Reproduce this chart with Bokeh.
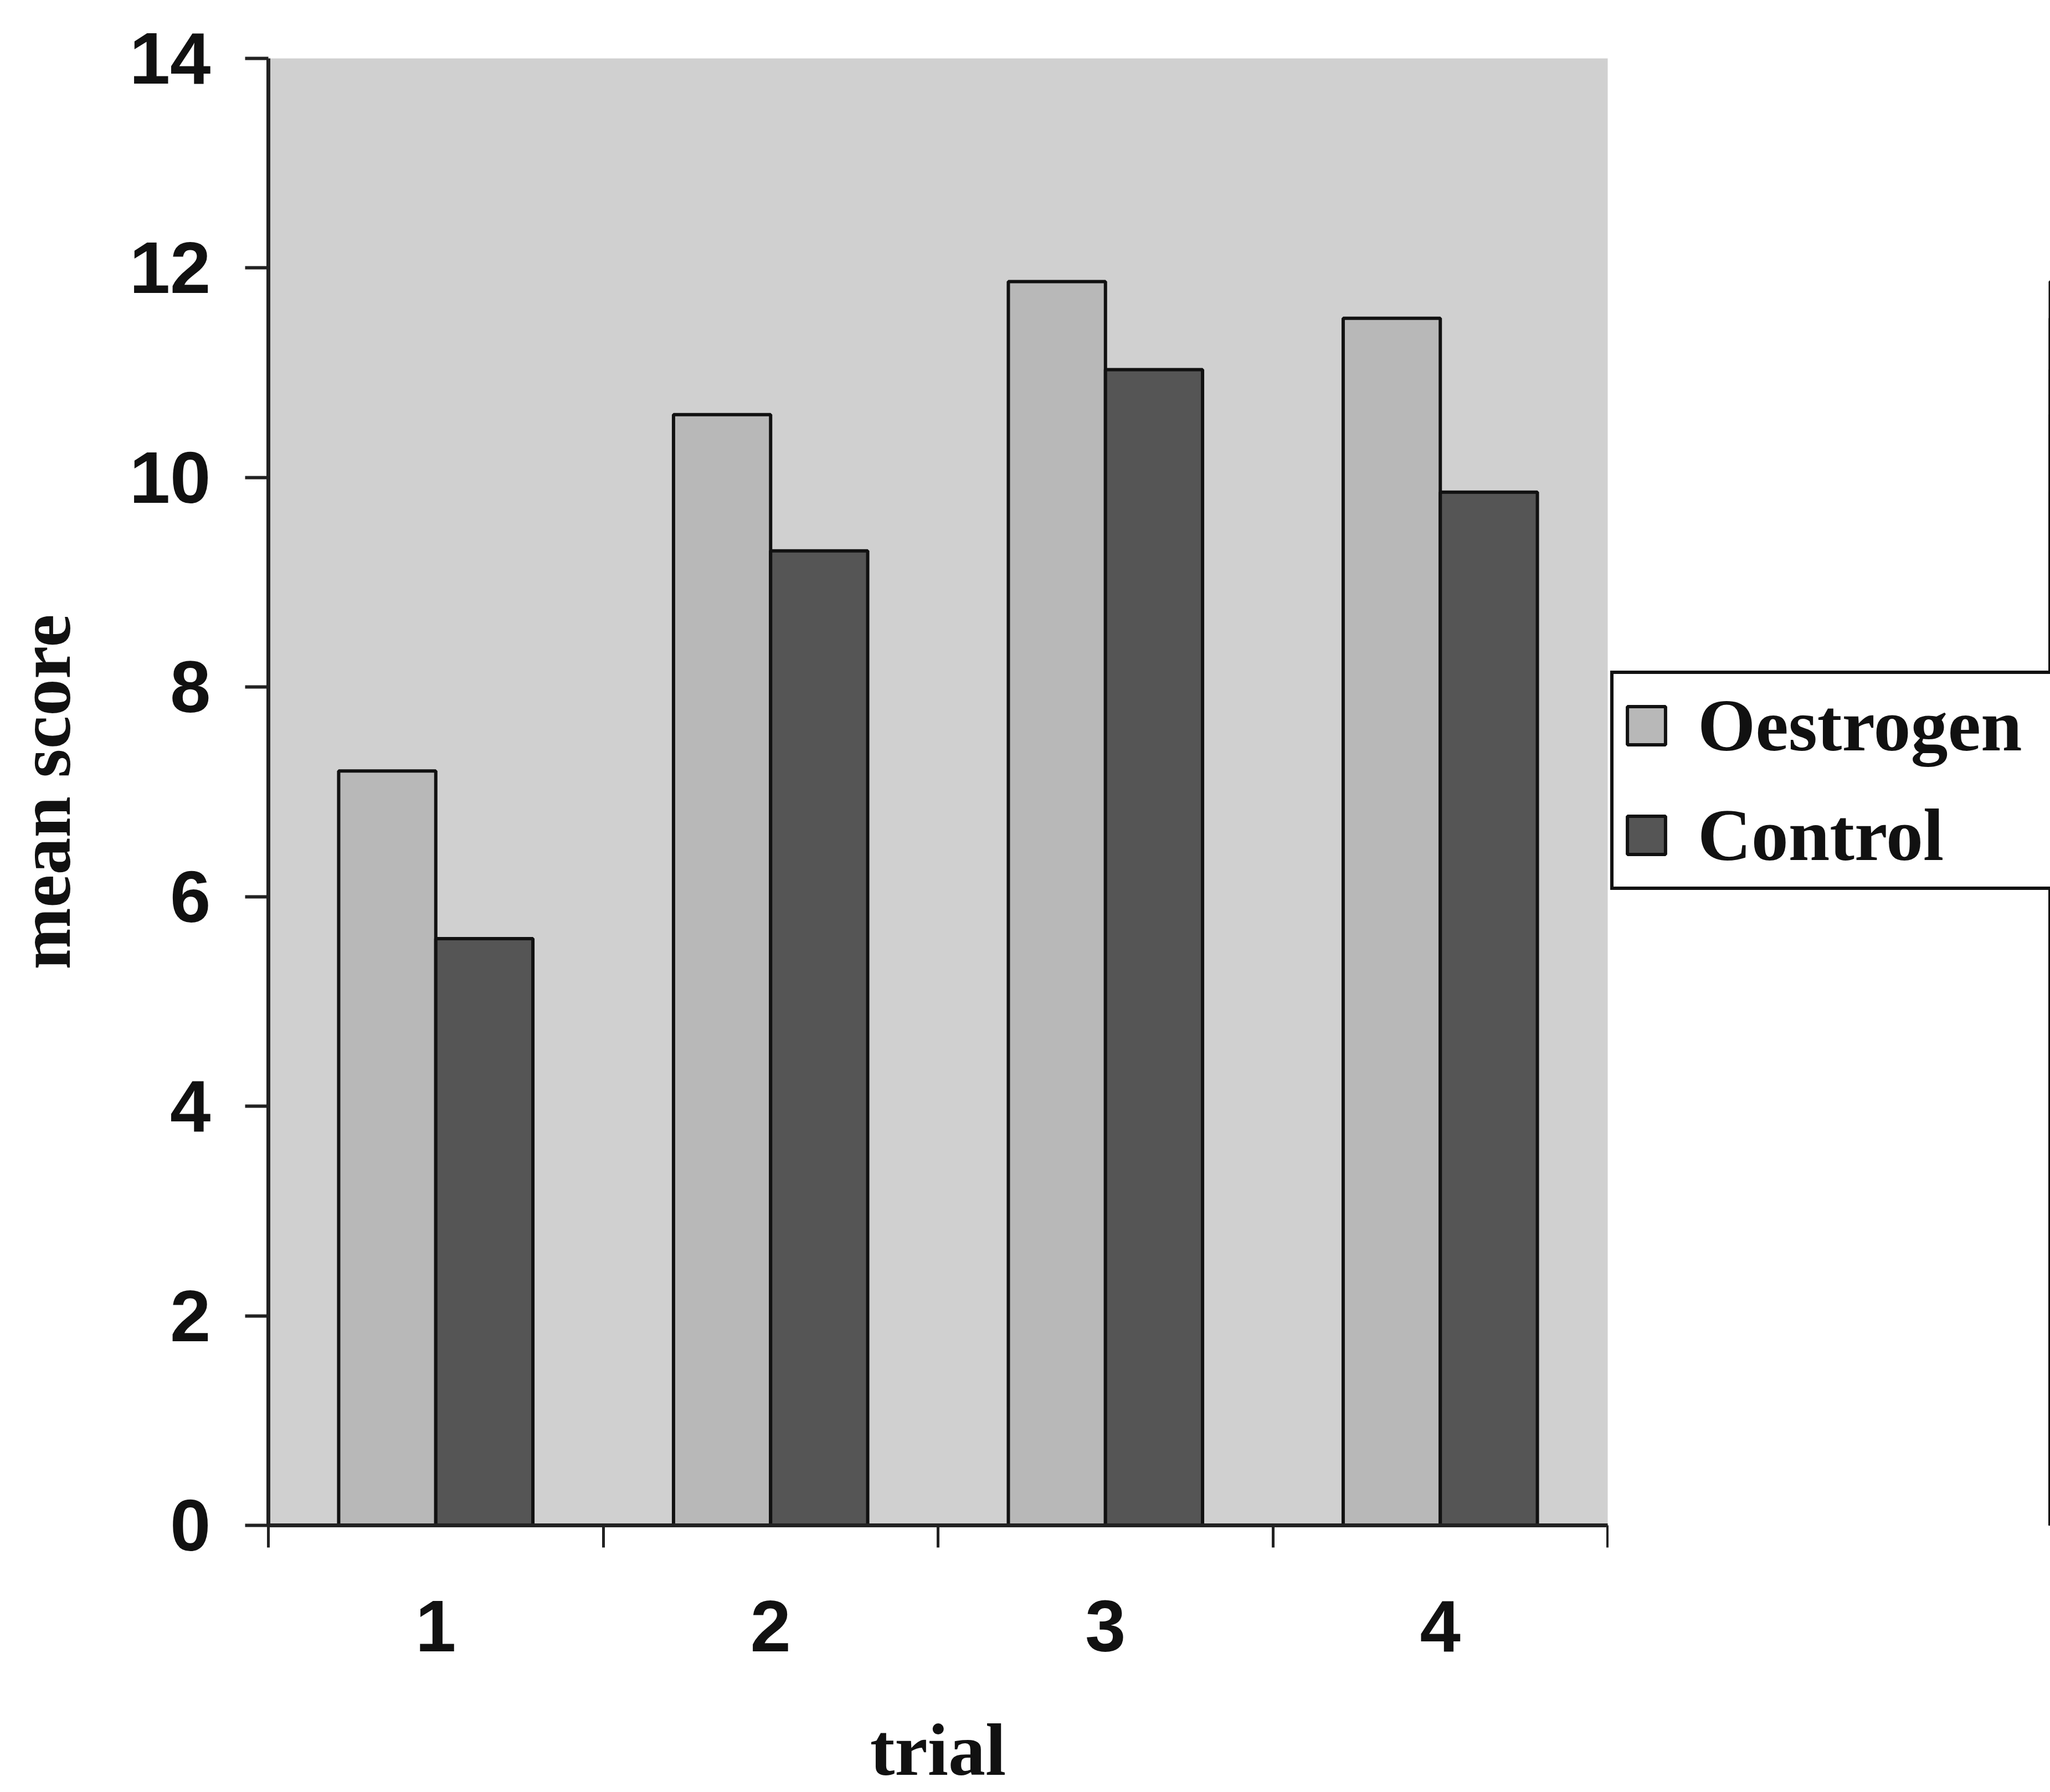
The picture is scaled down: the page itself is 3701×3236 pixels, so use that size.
from bokeh.plotting import figure
from bokeh.layouts import row
from bokeh.models import (FixedTicker, Range1d, Legend, LegendItem, ColumnDataSource)
from bokeh.embed import file_html
from bokeh.resources import INLINE

# Mean score per trial for each group
trials = ["1", "2", "3", "4"]
oestrogen = [7.2, 10.6, 11.87, 11.52]
control = [5.6, 9.3, 11.03, 9.86]
y_ticks = [0, 2, 4, 6, 8, 10, 12, 14]
series = ["Oestrogen", "Control"]
fills = ["#b8b8b8", "#555555"]

BAR_W = 0.29
OFFSET = 0.145

n = len(trials)
centers = [i + 0.5 for i in range(n)]
src_o = ColumnDataSource(dict(x=[c - OFFSET for c in centers], top=oestrogen))
src_c = ColumnDataSource(dict(x=[c + OFFSET for c in centers], top=control))

W, H = 3701, 3236
LEFT, PLOT_RIGHT, TOP, BOTTOM = 484, 2902, 105, 2755
CHART_W = PLOT_RIGHT + 2

TICK_FONT = "Liberation Sans"
LABEL_FONT = "Liberation Serif"
LABEL_SIZE = "134px"

# ---- bar chart -------------------------------------------------------------
p = figure(width=CHART_W, height=H, output_backend="svg", toolbar_location=None,
           x_range=Range1d(0, n), y_range=Range1d(0, 14),
           min_border_left=LEFT, min_border_right=CHART_W - PLOT_RIGHT,
           min_border_top=TOP, min_border_bottom=H - BOTTOM)

p.background_fill_color = "#d0d0d0"
p.border_fill_color = "white"
p.outline_line_color = None
p.xgrid.visible = False
p.ygrid.visible = False

p.vbar(x="x", top="top", width=BAR_W, source=src_o,
       fill_color=fills[0], line_color="#111111", line_width=6)
p.vbar(x="x", top="top", width=BAR_W, source=src_c,
       fill_color=fills[1], line_color="#111111", line_width=6)

# x axis: labels at group centres, tick marks at group boundaries
xa = p.xaxis[0]
xa.ticker = FixedTicker(ticks=centers, minor_ticks=list(range(n + 1)))
xa.major_label_overrides = {c: t for c, t in zip(centers, trials)}
xa.major_tick_out = 0
xa.major_tick_in = 0
xa.minor_tick_out = 40
xa.minor_tick_in = 0
xa.minor_tick_line_width = 5
xa.minor_tick_line_color = "#222222"
xa.axis_line_width = 7
xa.axis_line_color = "#222222"
xa.major_label_text_font = TICK_FONT
xa.major_label_text_font_style = "bold"
xa.major_label_text_font_size = "132px"
xa.major_label_text_color = "#111111"
xa.major_label_standoff = 96
xa.axis_label = "trial"
xa.axis_label_text_font = LABEL_FONT
xa.axis_label_text_font_style = "bold"
xa.axis_label_text_font_size = LABEL_SIZE
xa.axis_label_text_color = "#111111"
xa.axis_label_standoff = 101

ya = p.yaxis[0]
ya.ticker = FixedTicker(ticks=y_ticks, minor_ticks=[])
ya.major_tick_out = 42
ya.major_tick_in = 0
ya.major_tick_line_width = 6
ya.major_tick_line_color = "#222222"
ya.axis_line_width = 7
ya.axis_line_color = "#222222"
ya.major_label_text_font = TICK_FONT
ya.major_label_text_font_style = "bold"
ya.major_label_text_font_size = "132px"
ya.major_label_text_color = "#111111"
ya.major_label_standoff = 62
ya.axis_label = "mean score"
ya.axis_label_text_font = LABEL_FONT
ya.axis_label_text_font_style = "bold"
ya.axis_label_text_font_size = LABEL_SIZE
ya.axis_label_text_color = "#111111"
ya.axis_label_standoff = 76

# ---- legend panel to the right of the chart ----------------------------------
# same bar sources, but the view range keeps the bars themselves out of sight;
# they only provide the legend swatches
q = figure(width=W - CHART_W, height=H, output_backend="svg", toolbar_location=None,
           x_axis_location=None, y_axis_location=None, min_border=0,
           x_range=Range1d(-3, -2), y_range=Range1d(0, 14))
q.background_fill_color = "white"
q.border_fill_color = "white"
q.outline_line_color = None
q.grid.visible = False

swatches = [q.vbar(x="x", top="top", width=BAR_W, source=s, fill_color=f,
                   line_color="#111111", line_width=6)
            for s, f in zip([src_o, src_c], fills)]

# frames of the row are aligned, so the offset is measured from the x axis line
legend = Legend(items=[LegendItem(label=s, renderers=[r]) for s, r in zip(series, swatches)],
                location=(3, BOTTOM - 1608), orientation="vertical")
legend.label_text_font = LABEL_FONT
legend.label_text_font_style = "bold"
legend.label_text_font_size = LABEL_SIZE
legend.label_text_color = "#111111"
legend.glyph_width = 86
legend.glyph_height = 86
legend.label_standoff = 50
legend.label_width = 720
legend.spacing = 44
legend.padding = 16
legend.margin = 0
legend.border_line_color = "#111111"
legend.border_line_alpha = 1.0
legend.border_line_width = 6
legend.background_fill_color = "white"
legend.background_fill_alpha = 1.0
q.add_layout(legend, "center")

layout = row(p, q, spacing=0)
open("out.html", "w").write(file_html(layout, INLINE))
